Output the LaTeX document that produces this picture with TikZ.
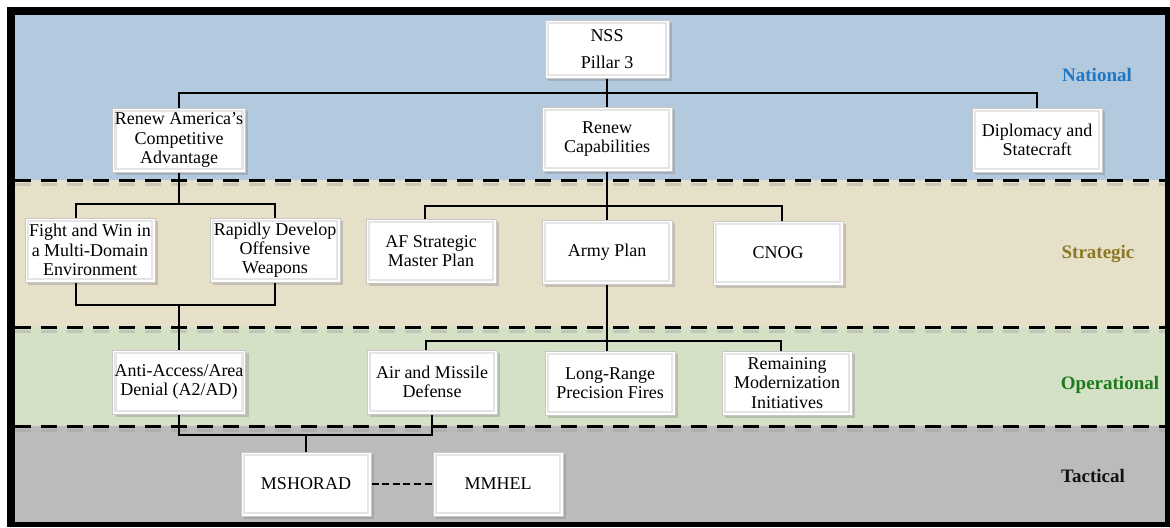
\documentclass[tikz,border=0pt]{standalone}
\usepackage{fontspec}
\setmainfont{Liberation Serif}
\definecolor{bgNat}{HTML}{B3C9DD}
\definecolor{bgStr}{HTML}{E7E0C9}
\definecolor{bgOps}{HTML}{D4E1C6}
\definecolor{bgTac}{HTML}{BBBBBB}
\definecolor{txNat}{HTML}{1F77C4}
\definecolor{txStr}{HTML}{8A7823}
\definecolor{txOps}{HTML}{1C7A1C}
\definecolor{txTac}{HTML}{111111}
\usetikzlibrary{shadows,calc}

\begin{document}
\begin{tikzpicture}[
  x=0.5pt,y=-0.5pt,
  bx/.style={draw=black!22,line width=0.5pt,fill=white,
             minimum width=65pt,minimum height=32pt,inner sep=1pt,align=center,
             font=\fontsize{9}{9.6}\selectfont,
             drop shadow={shadow xshift=1.6pt,shadow yshift=-1.6pt,opacity=.35},
             path picture={\draw[black!10,line width=1.2pt]
               ([shift={(1.4pt,1.4pt)}]path picture bounding box.south west) rectangle
               ([shift={(-1.4pt,-1.4pt)}]path picture bounding box.north east);}},
  lvl/.style={font=\fontsize{9.5}{11}\selectfont\bfseries},
  sep/.style={dash pattern=on 8pt off 5pt,line width=1.5pt},
  ln/.style={line width=0.8pt},
  dlink/.style={dash pattern=on 3.5pt off 1.8pt,line width=1pt}
]
\useasboundingbox (0,0) rectangle (1170,527);
% frame and bands
\fill[black] (7,7) rectangle (1170,527);
\fill[bgNat] (15,15) rectangle (1165,180);
\fill[bgStr] (15,180) rectangle (1165,327);
\fill[bgOps] (15,327) rectangle (1165,426);
\fill[bgTac] (15,426) rectangle (1165,522);
\foreach \y in {180,327,426}{
  \draw[sep,black!40,opacity=.35] (15,\y+4) -- (1165,\y+4);
  \draw[sep] (15,\y) -- (1165,\y);
}
% national
\node[bx,minimum width=62pt,minimum height=29pt] (nss) at (607,49) {NSS\\[4pt]Pillar 3};
\node[bx] (rac) at (179,140) {Renew America’s\\Competitive\\Advantage};
\node[bx] (rcap) at (607,139) {Renew\\Capabilities};
\node[bx] (dipl) at (1037,140) {Diplomacy and\\Statecraft};
% strategic
\node[bx] (fight) at (90,250) {Fight and Win in\\a Multi-Domain\\Environment};
\node[bx] (rapid) at (275,250) {Rapidly Develop\\Offensive\\Weapons};
\node[bx] (afsmp) at (431,251) {AF Strategic\\Master Plan};
\node[bx] (army) at (607,252) {Army Plan};
\node[bx] (cnog) at (778,253) {CNOG};
% operational
\node[bx] (a2ad) at (179,382) {Anti-Access/Area\\Denial (A2/AD)};
\node[bx] (amd) at (432,382) {Air and Missile\\Defense};
\node[bx] (lrpf) at (610,383) {Long-Range\\Precision Fires};
\node[bx] (rmi) at (787,383) {Remaining\\Modernization\\Initiatives};
% tactical
\node[bx] (mshorad) at (306,484) {MSHORAD};
\node[bx] (mmhel) at (498,484) {MMHEL};
% level names
\node[lvl,text=txNat] (lnat) at (1097,75) {National};
\node[lvl,text=txStr] (lstr) at (1098,254) {Strategic};
\node[lvl,text=txOps] (lops) at (1110,385) {Operational};
\node[lvl,text=txTac] (ltac) at (1093,476) {Tactical};
% tree
\coordinate (jn) at (607,93);
\draw[ln] (nss.south) -- (rcap.north);
\draw[ln] (rac.north) |- (jn) -| (dipl.north);
\coordinate (jra) at (179,204);
\coordinate (jrb) at (179,305);
\draw[ln] (rac.south) -- (jra);
\draw[ln] ([xshift=-7pt]fight.north) |- (jra) -| (rapid.north);
\draw[ln] ([xshift=-7pt]fight.south) |- (jrb) -| (rapid.south);
\draw[ln] (jrb) -- (a2ad.north);
\coordinate (jca) at (607,206);
\draw[ln] (rcap.south) -- (army.north);
\draw[ln] ([xshift=-3pt]afsmp.north) |- (jca) -| ([xshift=2pt]cnog.north);
\coordinate (jcb) at (607,341);
\draw[ln] (army.south) -- (jcb);
\draw[ln] ([xshift=-3pt]amd.north) |- (jcb) -| ([xshift=-3pt]rmi.north);
\draw[ln] (jcb) -- (jcb |- lrpf.north);
\coordinate (jop) at (306,435);
\draw[ln] (a2ad.south) |- (jop) -| (amd.south);
\draw[ln] (jop) -- (mshorad.north);
\draw[dlink] (mshorad) -- (mmhel);
\end{tikzpicture}
\end{document}
